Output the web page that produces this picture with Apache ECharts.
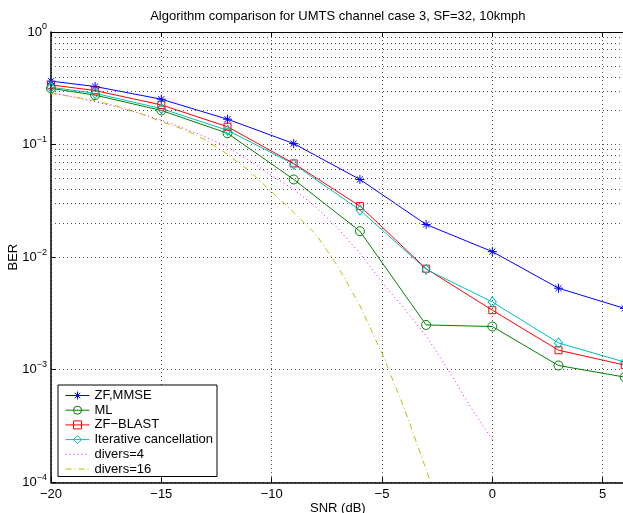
<!DOCTYPE html>
<html><head><meta charset="utf-8">
<script src="https://cdn.jsdelivr.net/npm/echarts@6/dist/echarts.min.js"></script>
<style>html,body{margin:0;padding:0;background:#fff}#c{width:623px;height:513px}</style>
</head><body><div id="c"></div>
<script>
// ---- data ----
const snr = [-20, -18, -15, -12, -9, -6, -3, 0, 3, 6];
const zfMmse   = [0.366, 0.328, 0.253, 0.168, 0.102, 0.049, 0.0195, 0.0112, 0.0053, 0.0035];
const ml       = [0.316, 0.275, 0.201, 0.126, 0.049, 0.017, 0.0025, 0.00242, 0.00109, 0.00086];
const zfBlast  = [0.339, 0.302, 0.225, 0.144, 0.068, 0.0284, 0.0079, 0.00338, 0.00149, 0.0011];
const iterCanc = [0.323, 0.285, 0.209, 0.134, 0.067, 0.0262, 0.0078, 0.0040, 0.00173, 0.00117];

const div4Snr = [-20, -19, -18, -17, -16, -15, -14, -13, -12, -11, -10, -9, -8, -7, -6, -5, -4, -3, -2, -1, 0];
const div4    = [0.29, 0.265, 0.24, 0.216, 0.19, 0.165, 0.14, 0.117, 0.095, 0.072, 0.053, 0.04, 0.028, 0.018, 0.0108, 0.006, 0.0035, 0.002, 0.001, 0.00047, 0.00024];

const div16Snr = [-20, -19, -18, -17, -16, -15, -14, -13, -12, -11, -10, -9, -8, -7, -6, -5, -4, -3, -2.8];
const div16    = [0.285, 0.266, 0.245, 0.22, 0.19, 0.16, 0.137, 0.11, 0.082, 0.058, 0.038, 0.025, 0.016, 0.0083, 0.0037, 0.0014, 0.00046, 0.00013, 0.0001];

const xTickLabels = [-20, -15, -10, -5, 0, 5];
const yDecades = [1e-4, 1e-3, 1e-2, 1e-1, 1];
const minorMultipliers = [2, 3, 4, 5, 6, 7, 8, 9];

const titleText = 'Algorithm comparison for UMTS channel case 3, SF=32, 10kmph';
const xName = 'SNR (dB)';
const yName = 'BER';
const names = ['ZF,MMSE', 'ML', 'ZF\u2212BLAST', 'Iterative cancellation', 'divers=4', 'divers=16'];
const colors = ['#0000ff', '#008000', '#ff0000', '#00bfbf', '#ff00ff', '#bfbf00'];

// ---- chart ----
const FONT = '"Liberation Sans", Arial, Helvetica, sans-serif';
const GRID_COLOR = '#555';
const minorGrid = [];
yDecades.slice(0, -1).forEach(d => minorMultipliers.forEach(m => minorGrid.push(m * d)));

function pairs(xs, ys) { return xs.map((x, i) => [x, ys[i]]); }
const ASTER = 'path://M5,0L5,10M0,5L10,5M1.6,1.6L8.4,8.4M1.6,8.4L8.4,1.6';

function markerSeries(i, ys, symbol, size) {
  const color = colors[i];
  return {
    name: names[i], type: 'line', data: pairs(snr, ys), symbol, symbolSize: size,
    lineStyle: { color, width: 1 },
    itemStyle: { color: 'rgba(0,0,0,0)', borderColor: color, borderWidth: 1 },
    emphasis: { disabled: true }, z: 3
  };
}
function curveSeries(i, xs, ys, dash) {
  const color = colors[i];
  return {
    name: names[i], type: 'line', data: pairs(xs, ys), symbol: 'none', showSymbol: false,
    lineStyle: { color, width: 1, type: dash }, itemStyle: { color },
    emphasis: { disabled: true }, z: 3
  };
}

const minus = s => String(s).replace('-', '\u2212');

const legendData = names.map((n, i) => ({
  name: n,
  lineStyle: { width: 1 },
  itemStyle: i < 4
    ? { color: 'rgba(0,0,0,0)', borderColor: colors[i], borderWidth: 1 }
    : { color: 'rgba(0,0,0,0)', borderWidth: 0, opacity: 0 }
}));

const option = {
  animation: false,
  backgroundColor: '#fff',
  textStyle: { fontFamily: FONT },
  grid: { left: 51, top: 32, width: 573.7, height: 450.3, containLabel: false, outerBoundsMode: 'none' },
  legend: {
    orient: 'vertical', left: 58, top: 385,
    padding: [4, 4, 1, 7], itemGap: 1.7, itemWidth: 24, itemHeight: 10,
    borderColor: '#000', borderWidth: 1, backgroundColor: '#fff',
    textStyle: { fontSize: 13, color: '#000', fontFamily: FONT },
    data: legendData
  },
  xAxis: [{
    type: 'value', min: -20, max: 6, interval: 5, position: 'bottom',
    name: xName, nameLocation: 'middle', nameGap: 20, nameMoveOverlap: false,
    nameTextStyle: { fontSize: 13, color: '#000', fontFamily: FONT },
    axisLine: { onZero: false, lineStyle: { color: '#000', width: 1.5 } },
    axisTick: { inside: true, length: 5, lineStyle: { color: '#000' } },
    axisLabel: { fontSize: 13, color: '#000', margin: 6, fontFamily: FONT,
      formatter: v => xTickLabels.includes(v) ? minus(v) : '' },
    splitLine: { show: true, lineStyle: { color: GRID_COLOR, type: [1, 3], width: 1 } }
  }, {
    type: 'value', min: -20, max: 6, interval: 5, position: 'top',
    name: titleText, nameLocation: 'middle', nameGap: 9, nameMoveOverlap: false,
    nameTextStyle: { fontSize: 13, color: '#000', fontFamily: FONT },
    axisLine: { onZero: false, lineStyle: { color: '#000', width: 1 } },
    axisTick: { inside: true, length: 5, lineStyle: { color: '#000' } },
    axisLabel: { show: false }, splitLine: { show: false }
  }],
  yAxis: [{
    type: 'log', logBase: 10, min: 1e-4, max: 1, splitNumber: 4,
    name: yName, nameLocation: 'middle', nameGap: 31, nameRotate: 90, nameMoveOverlap: false,
    nameTextStyle: { fontSize: 13, color: '#000', fontFamily: FONT },
    axisLine: { show: true, onZero: false, lineStyle: { color: '#000', width: 1.5 } },
    axisTick: { show: true, inside: true, length: 5, lineStyle: { color: '#000' } },
    axisLabel: {
      margin: 4, color: '#000', fontFamily: FONT,
      formatter: v => '{b|10}{e|' + minus(Math.round(Math.log10(v))) + '}',
      rich: {
        b: { fontSize: 13, color: '#000', fontFamily: FONT },
        e: { fontSize: 9, color: '#000', fontFamily: FONT, padding: [0, 0, 10, 0] }
      }
    },
    splitLine: { show: true, lineStyle: { color: GRID_COLOR, type: [1, 3], width: 1 } }
  }],
  series: [
    {
      type: 'line', data: [], silent: true, z: 1,
      markLine: {
        silent: true, symbol: ['none', 'none'], animation: false,
        label: { show: false },
        lineStyle: { color: GRID_COLOR, type: [1, 3], width: 1 },
        emphasis: { disabled: true },
        data: minorGrid.map(v => ({ yAxis: v }))
      }
    },
    markerSeries(0, zfMmse, ASTER, 9),
    markerSeries(1, ml, 'circle', 9),
    markerSeries(2, zfBlast, 'rect', 7),
    markerSeries(3, iterCanc, 'diamond', [8, 10]),
    curveSeries(4, div4Snr, div4, [1, 3]),
    curveSeries(5, div16Snr, div16, [6, 3, 1, 3])
  ]
};
echarts.init(document.getElementById('c'), null, { renderer: 'canvas' }).setOption(option);
</script></body></html>
